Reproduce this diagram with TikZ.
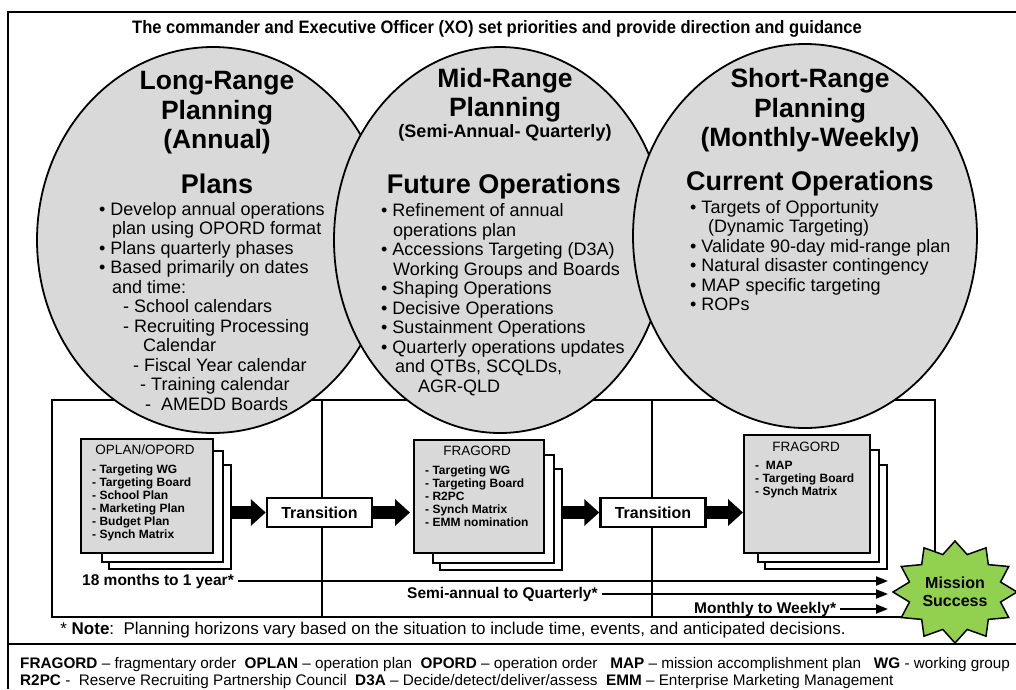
\documentclass[tikz,border=0pt]{standalone}
\usepackage{fontspec}
\setmainfont{Liberation Sans}
\newfontfamily\titlefont[FakeStretch=0.92]{Liberation Sans}
\usepackage{tikz}
\usetikzlibrary{calc, arrows.meta}
\tikzset{>=latex}
\definecolor{ovalgray}{RGB}{217,217,217}
\definecolor{stargreen}{RGB}{146,208,80}
\tikzset{
  oval/.style={draw, line width=1.8pt, fill=ovalgray},
  rangehead/.style={anchor=base, inner sep=0pt, font=\fontsize{26.5}{26.5}\selectfont\bfseries},
  ophead/.style={anchor=base, inner sep=0pt, font=\fontsize{27}{27}\selectfont\bfseries},
  body/.style={anchor=base west, inner sep=0pt, font=\fontsize{18}{18}\selectfont},
  page/.style={draw, line width=1.6pt, fill=white, anchor=north west},
  frontpage/.style={page, fill=ovalgray},
  doctitle/.style={anchor=base, inner sep=0pt, font=\fontsize{13.5}{13.5}\selectfont},
  docitem/.style={anchor=base west, inner sep=0pt, font=\fontsize{12}{12}\selectfont\bfseries},
  transbox/.style={draw, line width=2.5pt, fill=white, minimum width=105pt, minimum height=29pt,
    inner sep=0pt, font=\fontsize{16}{16}\selectfont\bfseries},
  bigarrow/.style={line width=13pt, -{Triangle[length=15pt, width=26pt]}},
  horizon/.style={anchor=base west, inner xsep=4pt, inner ysep=0pt, font=\fontsize{15.5}{15.5}\selectfont\bfseries},
  timearrow/.style={line width=2pt, -{Triangle[length=12pt, width=9pt]}},
}

\begin{document}
\begin{tikzpicture}[x=1pt, y=-1pt]
\useasboundingbox (0,0) rectangle (1016,689);
\fill[white] (0,0) rectangle (1016,689);
% frame
\draw[line width=2pt] (1016,12) -- (8,12) -- (8,689);
\draw[line width=2pt] (8,644) -- (1016,644);
\node[anchor=base, inner sep=0pt, font=\titlefont\fontsize{18}{18}\selectfont\bfseries] (title) at (497,33)
  {The commander and Executive Officer (XO) set priorities and provide direction and guidance};

% time line box
\draw[line width=2pt] (52,400) rectangle (935,617);
\draw[line width=2pt] (322,400) -- (322,617);
\draw[line width=2pt] (652,400) -- (652,617);

% planning ovals
\draw[oval] (213,240) ellipse [x radius=176, y radius=193];
\draw[oval] (500,240) ellipse [x radius=166, y radius=193];
\draw[oval] (805,236) ellipse [x radius=172, y radius=192];

\node[rangehead] (lr1) at (217,89) {Long-Range};
\node[rangehead] (lr2) at (217,119) {Planning};
\node[rangehead] (lr3) at (217,148) {(Annual)};
\node[ophead] (lrop) at (217,193) {Plans};
\foreach \x/\t [count=\i] in {
  99/{\textbullet\ Develop annual operations},
  112/{plan using OPORD format},
  99/{\textbullet\ Plans quarterly phases},
  99/{\textbullet\ Based primarily on dates},
  112/{and time:},
  123/{- School calendars},
  123/{- Recruiting Processing},
  143/{Calendar},
  133/{- Fiscal Year calendar},
  140/{- Training calendar},
  145/{-\ \ AMEDD Boards}}
  \node[body] (lrb\i) at (\x,195.5+19.5*\i) {\t};

\node[rangehead] (mr1) at (505,87) {Mid-Range};
\node[rangehead] (mr2) at (505,116) {Planning};
\node[anchor=base, inner sep=0pt, font=\fontsize{18}{18}\selectfont\bfseries] (mr3) at (505,137)
  {(Semi-Annual- Quarterly)};
\node[ophead] (mrop) at (504,193) {Future Operations};
\foreach \x/\t [count=\i] in {
  381/{\textbullet\ Refinement of annual},
  393/{operations plan},
  381/{\textbullet\ Accessions Targeting (D3A)},
  393/{Working Groups and Boards},
  381/{\textbullet\ Shaping Operations},
  381/{\textbullet\ Decisive Operations},
  381/{\textbullet\ Sustainment Operations},
  381/{\textbullet\ Quarterly operations updates},
  395/{and QTBs, SCQLDs,},
  418/{AGR-QLD}}
  \node[body] (mrb\i) at (\x,197+19.5*\i) {\t};

\node[rangehead] (sr1) at (810,87) {Short-Range};
\node[rangehead] (sr2) at (810,117) {Planning};
\node[rangehead] (sr3) at (810,146) {(Monthly-Weekly)};
\node[ophead] (srop) at (810,190) {Current Operations};
\foreach \x/\t [count=\i] in {
  690/{\textbullet\ Targets of Opportunity},
  708/{(Dynamic Targeting)},
  690/{\textbullet\ Validate 90-day mid-range plan},
  690/{\textbullet\ Natural disaster contingency},
  690/{\textbullet\ MAP specific targeting},
  690/{\textbullet\ ROPs}}
  \node[body] (srb\i) at (\x,193.5+19.5*\i) {\t};

% document stacks
\node[page, minimum width=122pt, minimum height=104pt] (pg1c) at (108,464) {};
\node[page, minimum width=121pt, minimum height=111pt] (pg1b) at (101,450) {};
\node[frontpage, minimum width=132pt, minimum height=114pt] (pg1a) at (80,438) {};
\node[doctitle] (doc1) at (145,454) {OPLAN/OPORD};
\foreach \t [count=\i] in {Targeting WG, Targeting Board, School Plan, Marketing Plan, Budget Plan, Synch Matrix}
  \node[docitem] (doc1i\i) at (92,460+13*\i) {- \t};

\node[page, minimum width=122pt, minimum height=101pt] (pg2c) at (439,468) {};
\node[page, minimum width=121pt, minimum height=108pt] (pg2b) at (432,454) {};
\node[frontpage, minimum width=130pt, minimum height=113pt] (pg2a) at (413,439) {};
\node[doctitle] (doc2) at (477,455) {FRAGORD};
\foreach \t [count=\i] in {Targeting WG, Targeting Board, R2PC, Synch Matrix, EMM nomination}
  \node[docitem] (doc2i\i) at (425,461+13*\i) {- \t};

\node[page, minimum width=122pt, minimum height=104pt] (pg3c) at (764,464) {};
\node[page, minimum width=121pt, minimum height=112pt] (pg3b) at (757,449) {};
\node[frontpage, minimum width=126pt, minimum height=118pt] (pg3a) at (743,434) {};
\node[doctitle] (doc3) at (806,451) {FRAGORD};
\foreach \t [count=\i] in {{\ MAP}, Targeting Board, Synch Matrix}
  \node[docitem] (doc3i\i) at (755,456+13*\i) {- \t};

% transitions
\node[transbox] (tr1) at (319.5,512.5) {Transition};
\node[transbox] (tr2) at (653,512.5) {Transition};
\draw[bigarrow] (tr1.west -| pg1c.east) -- (tr1.west);
\draw[bigarrow, shorten >=3pt] (tr1.east) -- (tr1.east -| pg2a.west);
\draw[bigarrow] (tr2.west -| pg2c.east) -- (tr2.west);
\draw[bigarrow] (tr2.east) -- (tr2.east -| pg3a.west);

% planning horizons
\fill[stargreen, draw=black, line width=1.5pt] plot[variable=\t, samples at={0,15,...,345}]
  ({955+62*(0.88+0.12*cos(12*\t))*cos(\t)}, {592-51*(0.88+0.12*cos(12*\t))*sin(\t)}) -- cycle;
\node[align=center, inner sep=0pt, font=\fontsize{16}{18}\selectfont\bfseries] (ms) at (955,592)
  {Mission\\Success};
\coordinate (goal) at (888,592);
\node[horizon] (hz1) at (78,585) {18 months to 1 year*};
\node[horizon] (hz2) at (403,598) {Semi-annual to Quarterly*};
\node[horizon] (hz3) at (690,613) {Monthly to Weekly*};
\draw[timearrow] (hz1.east) -- (hz1.east -| goal);
\draw[timearrow] (hz2.east) -- (hz2.east -| goal);
\draw[timearrow] (hz3.east) -- (hz3.east -| goal);

% note and legend
\node[anchor=base, inner sep=0pt, font=\fontsize{17}{17}\selectfont] (note) at (453,634)
  {* \textbf{Note}:\ \ Planning horizons vary based on the situation to include time, events, and anticipated decisions.};
\node[anchor=base west, inner sep=0pt, font=\fontsize{15.3}{15.3}\selectfont] (leg1) at (20,668)
  {\textbf{FRAGORD} – fragmentary order\ \ \textbf{OPLAN} – operation plan\ \ \textbf{OPORD} – operation order\ \ \ \textbf{MAP} – mission accomplishment plan\ \ \ \textbf{WG} - working group};
\node[anchor=base west, inner sep=0pt, font=\fontsize{15.3}{15.3}\selectfont] (leg2) at (20,685)
  {\textbf{R2PC} -\ \ Reserve Recruiting Partnership Council\ \ \textbf{D3A} – Decide/detect/deliver/assess\ \ \textbf{EMM} – Enterprise Marketing Management};
\end{tikzpicture}
\end{document}
